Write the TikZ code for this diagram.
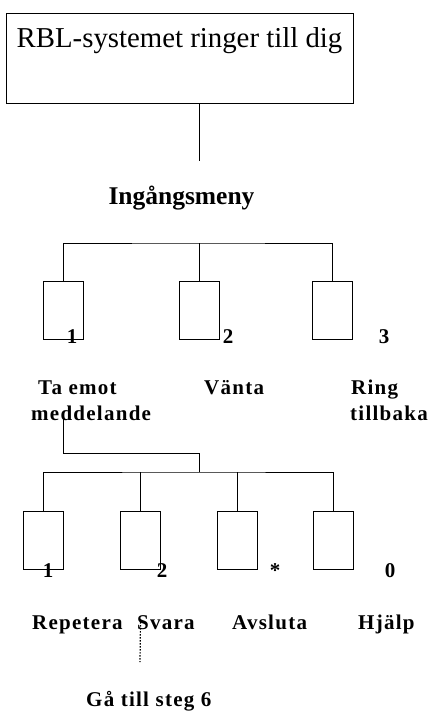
\documentclass[tikz,border=0pt]{standalone}
\usepackage{fontspec}
\setmainfont{Liberation Serif}
\usepackage{tikz}
\usetikzlibrary{positioning}
\tikzset{x=1pt, y=-1pt, line width=1.2pt,
  key/.style={draw, minimum width=40pt, minimum height=58pt, inner sep=0pt},
  lbl/.style={inner sep=0pt, font=\fontsize{21}{25}\selectfont\bfseries\addfontfeature{LetterSpace=6}}}

\begin{document}
\begin{tikzpicture}
              \useasboundingbox (0,0) rectangle (432,711);
              \node (RBL) [draw, minimum width=347pt, minimum height=90pt, inner sep=0pt] at (179.5,58) {};
              \node (RBLt) [anchor=base, inner sep=0pt, font=\fontsize{28.8}{34}\selectfont] at (179.5,48) {RBL-systemet ringer till dig};
              \coordinate (Top) at (199,161);
              \node (Meny) [anchor=base, inner sep=0pt, font=\fontsize{25.5}{30}\selectfont\bfseries] at (181.5,205) {Ingångsmeny};

              \coordinate (Bus) at (199,243);
              \node (K1) [key] at (63,310) {};
              \node (K2) [key] at (199,310) {};
              \node (K3) [key] at (332.5,310) {};
              \node (N1) [lbl, anchor=base] at (72,343) {1};
              \node (N2) [lbl, anchor=base] at (228,343) {2};
              \node (N3) [lbl, anchor=base] at (384,343) {3};
              \node (Ta) [lbl, anchor=base west] at (38,394) {Ta emot};
              \node (Med) [lbl, anchor=base west] at (31,420) {meddelande};
              \node (Vanta) [lbl, anchor=base west] at (204,394) {Vänta};
              \node (Ring) [lbl, anchor=base west] at (351,394) {Ring};
              \node (Till) [lbl, anchor=base west] at (350,420) {tillbaka};

              \coordinate (Knee) at (199,453);
              \coordinate (Bus2) at (199,472);
              \node (R1) [key] at (43.5,540) {};
              \node (R2) [key] at (140.5,540) {};
              \node (R3) [key] at (237,540) {};
              \node (R4) [key] at (333,540) {};
              \node (M1) [lbl, anchor=base] at (48,577) {1};
              \node (M2) [lbl, anchor=base] at (162,577) {2};
              \node (M3) [lbl, anchor=base] at (275,577) {*};
              \node (M4) [lbl, anchor=base] at (390,577) {0};
              \node (Rep) [lbl, anchor=base west] at (32,629) {Repetera};
              \node (Sv) [lbl, anchor=base west] at (137,629) {Svara};
              \node (Avs) [lbl, anchor=base west] at (232,629) {Avsluta};
              \node (Hj) [lbl, anchor=base west] at (358,629) {Hjälp};
              \coordinate (Dot) at (140,662);
              \node (Steg) [lbl, anchor=base west] at (86,706) {Gå till steg 6};

              \draw (RBL.south -| Top) -- (Top);
              \draw (K1.north) |- (Bus) -| (K3.north);
              \draw (Bus) -- (K2.north);
              \draw (Med.center -| K1.north) |- (Knee) -- (Bus2);
              \draw (R1.north) |- (Bus2) -| (R4.north);
              \draw (R2.north) -- (R2.north |- Bus2);
              \draw (R3.north) -- (R3.north |- Bus2);
              \draw [line width=1.2pt, dash pattern=on 1.5pt off 1.5pt] (Sv.center -| R2.north) -- (Dot);
            \end{tikzpicture}
\end{document}
